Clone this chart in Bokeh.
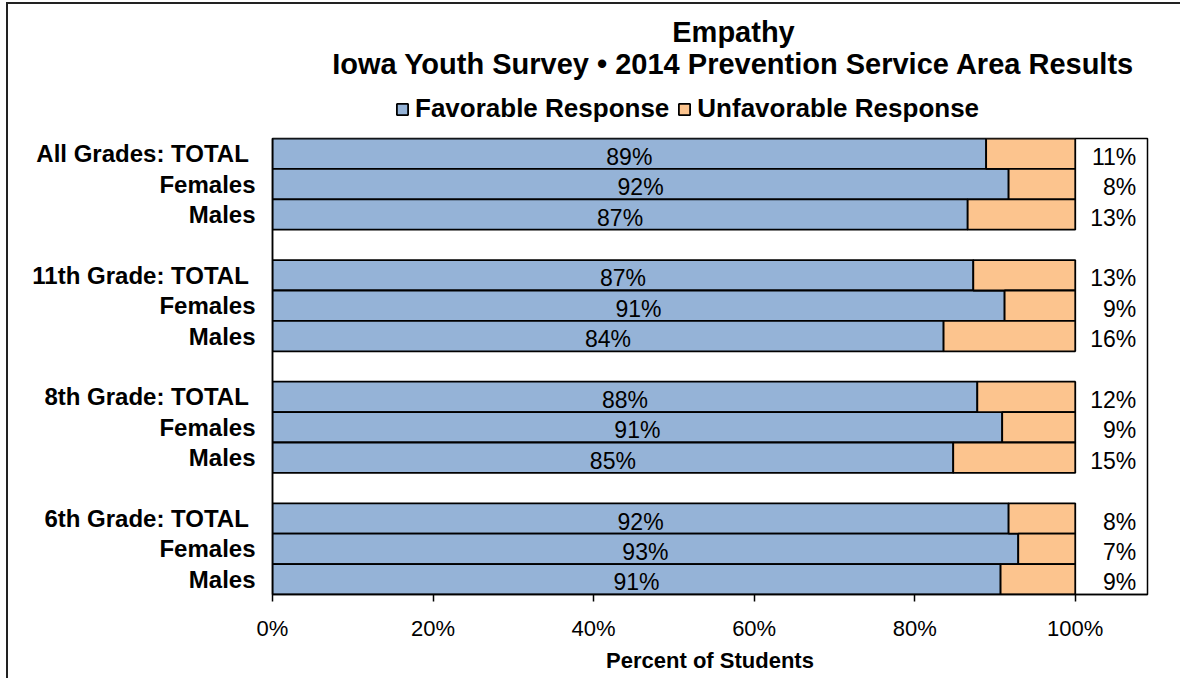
from bokeh.plotting import figure
from bokeh.layouts import column
from bokeh.models import (ColumnDataSource, Range1d, FixedTicker, PrintfTickFormatter,
                          Legend, LegendItem, Label)
from bokeh.embed import file_html
from bokeh.resources import INLINE

# ---- data ----
title_lines = ["Empathy", "Iowa Youth Survey \u2022 2014 Prevention Service Area Results"]
series_names = ["Favorable Response", "Unfavorable Response"]
groups = ["All Grades", "11th Grade", "8th Grade", "6th Grade"]
row_labels = ["All Grades:  TOTAL", "Females", "Males",
              "11th Grade:  TOTAL", "Females", "Males",
              "8th Grade:  TOTAL", "Females", "Males",
              "6th Grade:  TOTAL", "Females", "Males"]
favorable = [88.9, 91.7, 86.6,
             87.3, 91.2, 83.6,
             87.8, 90.9, 84.8,
             91.7, 92.9, 90.7]
unfavorable = [round(100 - v, 1) for v in favorable]
fav_labels = ["89%", "92%", "87%", "87%", "91%", "84%", "88%", "91%", "85%", "92%", "93%", "91%"]
unfav_labels = ["11%", "8%", "13%", "13%", "9%", "16%", "12%", "9%", "15%", "8%", "7%", "9%"]
x_ticks = [0, 20, 40, 60, 80, 100]

FONT = "Liberation Sans"
BLUE = "#95B3D7"
ORANGE = "#FCC48E"
W = 1172
TOP_H = 130
MAIN_H = 544

# slot positions (3 rows per group, one blank slot between groups)
slots = [g * 4 + j + 1 for g in range(len(groups)) for j in range(3)]

src = ColumnDataSource(dict(
    y=slots,
    fav=favorable,
    unfav=unfavorable,
    total=[f + u for f, u in zip(favorable, unfavorable)],
    zero=[0] * len(slots),
    fav_mid=[f / 2 for f in favorable],
    fav_lab=fav_labels,
    unfav_lab=unfav_labels,
    unfav_x=[107.6] * len(slots),
))

# ---------- header (titles + legend); its frame is aligned with the chart frame ----------
top = figure(width=W, height=TOP_H, output_backend="svg", toolbar_location=None,
             x_range=Range1d(0, 109), y_range=Range1d(0, 1),
             min_border_left=0, min_border_right=0, min_border_top=0, min_border_bottom=0,
             x_axis_type=None, y_axis_type=None, title=None)
top.grid.visible = False
top.outline_line_color = None
top.background_fill_color = "white"
top.border_fill_color = "white"

# hidden copies of the two series, only to give the legend its swatches
lr1 = top.hbar(y="y", left="zero", right="fav", height=1.0, source=src,
               fill_color=BLUE, line_color="black", line_width=1.8, visible=False)
lr2 = top.hbar(y="y", left="fav", right="total", height=1.0, source=src,
               fill_color=ORANGE, line_color="black", line_width=1.8, visible=False)

top.add_layout(Label(x=461, y=TOP_H - 27, x_units="screen", y_units="screen",
                     text=title_lines[0], text_align="center", text_baseline="middle",
                     text_font=FONT, text_font_size="29px", text_font_style="bold",
                     text_color="black"))
top.add_layout(Label(x=461, y=TOP_H - 59, x_units="screen", y_units="screen",
                     text=title_lines[1], text_align="center", text_baseline="middle",
                     text_font=FONT, text_font_size="29px", text_font_style="bold",
                     text_color="black"))

legend = Legend(items=[LegendItem(label=series_names[0], renderers=[lr1]),
                       LegendItem(label=series_names[1], renderers=[lr2])],
                orientation="horizontal", location=(123, 10),
                label_text_font=FONT, label_text_font_size="26px",
                label_text_font_style="bold", label_text_color="black",
                glyph_width=14, glyph_height=14, label_standoff=6, spacing=8,
                padding=2, margin=0, border_line_color=None,
                background_fill_alpha=0, inactive_fill_alpha=0)
top.add_layout(legend, "center")

# ---------- main chart ----------
p = figure(width=W, height=MAIN_H, output_backend="svg", toolbar_location=None,
           x_range=Range1d(0, 109), y_range=Range1d(15.5, 0.5),
           min_border_left=264, min_border_right=33, min_border_top=4,
           min_border_bottom=84, title=None)

r1 = p.hbar(y="y", left="zero", right="fav", height=1.0, source=src,
            fill_color=BLUE, line_color="black", line_width=1.8)
r2 = p.hbar(y="y", left="fav", right="total", height=1.0, source=src,
            fill_color=ORANGE, line_color="black", line_width=1.8)

p.text(x="fav_mid", y="y", text="fav_lab", source=src, text_align="center",
       text_baseline="middle", text_font_size="23px", text_color="black",
       text_font={"value": FONT}, y_offset=3)
p.text(x="unfav_x", y="y", text="unfav_lab", source=src, text_align="right",
       text_baseline="middle", text_font_size="23px", text_color="black",
       text_font={"value": FONT}, y_offset=3)

p.grid.visible = False
p.outline_line_color = "black"
p.outline_line_width = 1.5
p.background_fill_color = "white"
p.border_fill_color = "white"

# x axis
xa = p.xaxis[0]
xa.ticker = FixedTicker(ticks=x_ticks)
xa.formatter = PrintfTickFormatter(format="%d%%")
xa.major_tick_out = 7
xa.major_tick_in = 0
xa.minor_tick_out = 0
xa.minor_tick_in = 0
xa.major_tick_line_color = "black"
xa.major_tick_line_width = 1.5
xa.axis_line_color = "black"
xa.axis_line_width = 1.5
xa.major_label_text_font = FONT
xa.major_label_text_font_size = "22px"
xa.major_label_text_color = "black"
xa.major_label_standoff = 14
xa.axis_label = "Percent of Students"
xa.axis_label_text_font = FONT
xa.axis_label_text_font_size = "22px"
xa.axis_label_text_font_style = "bold"
xa.axis_label_text_color = "black"
xa.axis_label_standoff = 4

# y axis
ya = p.yaxis[0]
ya.ticker = FixedTicker(ticks=slots)
ya.major_label_overrides = {s: lab for s, lab in zip(slots, row_labels)}
ya.major_tick_out = 0
ya.major_tick_in = 0
ya.minor_tick_out = 0
ya.minor_tick_in = 0
ya.axis_line_color = "black"
ya.axis_line_width = 1.5
ya.major_label_text_font = FONT
ya.major_label_text_font_size = "24px"
ya.major_label_text_font_style = "bold"
ya.major_label_text_color = "black"
ya.major_label_standoff = 17

layout = column(top, p, spacing=0, margin=(2, 0, 0, 6),
                styles={"border-left": "2px solid #222", "border-top": "2px solid #222"})

open("out.html", "w").write(file_html(layout, INLINE))
